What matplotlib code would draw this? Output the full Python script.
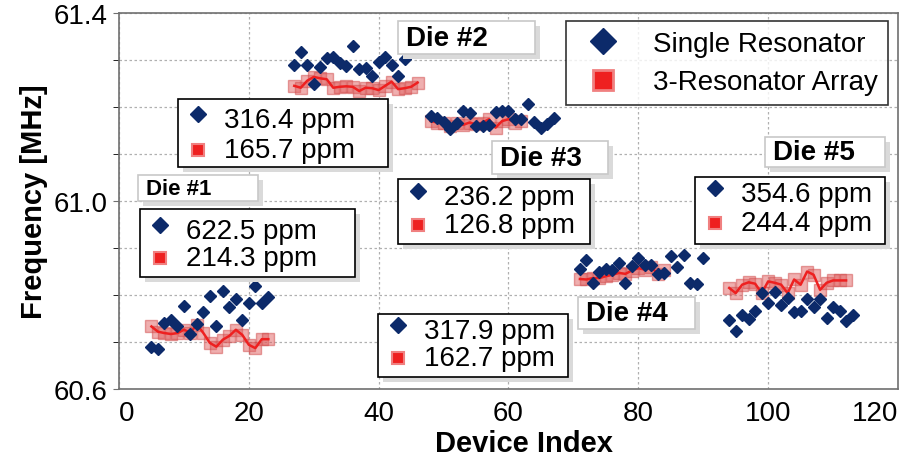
import numpy as np
import matplotlib.pyplot as plt
from matplotlib.lines import Line2D
from matplotlib.patches import Rectangle

plt.rcParams['font.family'] = ['Liberation Sans', 'DejaVu Sans']

# Single resonator, one list per die
single_x = [list(range(5, 24)), list(range(27, 45)), list(range(48, 68)),
            list(range(71, 91)), list(range(94, 114))]
single_y = [
    [60.689, 60.685, 60.740, 60.747, 60.733, 60.777, 60.717, 60.739, 60.764, 60.797,
     60.734, 60.808, 60.774, 60.792, 60.746, 60.783, 60.820, 60.783, 60.796],
    [61.289, 61.317, 61.289, 61.250, 61.286, 61.305, 61.307, 61.293, 61.288, 61.330,
     61.281, 61.284, 61.265, 61.295, 61.307, 61.289, 61.265, 61.303],
    [61.181, 61.176, 61.169, 61.153, 61.167, 61.192, 61.188, 61.160, 61.160, 61.162,
     61.190, 61.192, 61.192, 61.174, 61.174, 61.207, 61.169, 61.155, 61.163, 61.176],
    [60.855, 60.874, 60.826, 60.848, 60.856, 60.854, 60.868, 60.826, 60.861, 60.879,
     60.863, 60.863, 60.845, 60.847, 60.882, 60.859, 60.886, 60.826, 60.824, 60.879],
    [60.747, 60.724, 60.757, 60.749, 60.766, 60.804, 60.783, 60.806, 60.779, 60.794,
     60.763, 60.767, 60.791, 60.774, 60.791, 60.752, 60.774, 60.766, 60.744, 60.758],
]

# 3-resonator array, one list per die
array_x = [list(range(5, 24)), list(range(27, 47)), list(range(48, 63)),
           list(range(71, 85)), list(range(94, 113))]
array_y = [
    [60.733, 60.722, 60.719, 60.717, 60.719, 60.726, 60.720, 60.737, 60.719, 60.698,
     60.690, 60.705, 60.713, 60.726, 60.715, 60.694, 60.687, 60.706, 60.706],
    [61.245, 61.241, 61.256, 61.264, 61.261, 61.259, 61.241, 61.243, 61.244, 61.243,
     61.234, 61.241, 61.240, 61.236, 61.245, 61.254, 61.238, 61.240, 61.243, 61.252],
    [61.170, 61.167, 61.165, 61.160, 61.167, 61.162, 61.167, 61.163, 61.167, 61.174,
     61.156, 61.170, 61.174, 61.167, 61.170],
    [60.834, 60.833, 60.836, 60.836, 60.840, 60.843, 60.847, 60.845, 60.852, 60.857,
     60.854, 60.859, 60.845, 60.854],
    [60.815, 60.804, 60.822, 60.827, 60.824, 60.804, 60.829, 60.826, 60.822, 60.804,
     60.833, 60.822, 60.850, 60.843, 60.811, 60.826, 60.831, 60.831, 60.831],
]

die_names = ["Die #1", "Die #2", "Die #3", "Die #4", "Die #5"]
single_ppm = ["622.5 ppm", "316.4 ppm", "236.2 ppm", "317.9 ppm", "354.6 ppm"]
array_ppm = ["214.3 ppm", "165.7 ppm", "126.8 ppm", "162.7 ppm", "244.4 ppm"]

NAVY = "#0c2a6a"
RED = "#ee2020"

fig = plt.figure(figsize=(9.04, 4.64), dpi=100)
L, R, T, B = 119, 898, 14, 390
ax = fig.add_axes([L / 904, 1 - B / 464, (R - L) / 904, (B - T) / 464])


def px(x, y):
    # image pixel -> axes fraction
    return (x - L) / (R - L), 1 - (y - T) / (B - T)


for xs, ys in zip(array_x, array_y):
    ax.plot(xs, ys, ls="none", marker="s", ms=9, mfc="#e06060", mec="#d04848",
            alpha=0.5, zorder=2)
    ax.plot(xs, ys, color=RED, lw=1.8, zorder=3)
for xs, ys in zip(single_x, single_y):
    ax.plot(xs, ys, ls="none", marker="D", ms=6.5, color=NAVY, zorder=4)

ax.set_xlim(0, 120)
ax.set_ylim(60.6, 61.4)
ax.set_xticks(np.arange(0, 121, 20))
ax.set_yticks([60.6, 61.0, 61.4])
ax.set_yticks(np.arange(60.6, 61.41, 0.1), minor=True)
ax.set_yticklabels(["60.6", "61.0", "61.4"])
ax.grid(True, which="both", ls=(0, (2, 2)), color="#b0b0b0", lw=0.9)
ax.tick_params(axis="both", labelsize=20, colors="#707070", labelcolor="black")
ax.tick_params(axis="x", length=0, pad=8)
ax.tick_params(axis="y", which="both", length=4, direction="out", pad=4)
xt = ax.get_xticklabels()
xt[0].set_ha("left")
xt[-1].set_ha("right")
for s in ax.spines.values():
    s.set_color("#707070")
    s.set_linewidth(1.2)
ax.set_xlabel("Device Index", fontsize=21, fontweight="bold", labelpad=2, x=0.52)
ax.set_ylabel("Frequency [MHz]", fontsize=21, fontweight="bold", labelpad=4)


def box(x0, y0, x1, y1, ec="black", shadow=True):
    a0, b1 = px(x0, y1)
    a1, b0 = px(x1, y0)
    if shadow:
        ax.add_patch(Rectangle((a0 + 0.006, b1 - 0.014), a1 - a0, b0 - b1,
                               transform=ax.transAxes, fc="#dadada", ec="none",
                               zorder=8, clip_on=False))
    ax.add_patch(Rectangle((a0, b1), a1 - a0, b0 - b1, transform=ax.transAxes,
                           fc="white", ec=ec, lw=1.2, zorder=9, clip_on=False))


def stat_box(x0, y0, x1, y1, r1, r2, t1, t2):
    box(x0, y0, x1, y1)
    ax.plot(*px(x0 + 20, r1 - 6), marker="D", ms=8, color=NAVY,
            transform=ax.transAxes, zorder=10, clip_on=False)
    ax.plot(*px(x0 + 20, r2), marker="s", ms=9, mfc=RED, mec="#f08080",
            mew=1.5, transform=ax.transAxes, zorder=10, clip_on=False)
    ax.text(*px(x0 + 46, r1), t1, fontsize=20, va="center", transform=ax.transAxes,
            zorder=10)
    ax.text(*px(x0 + 46, r2), t2, fontsize=20, va="center", transform=ax.transAxes,
            zorder=10)


def die_label(x0, y0, x1, y1, text, size):
    box(x0, y0, x1, y1, ec="#c8c8c8")
    ax.text(*px(x0 + 8, (y0 + y1) / 2), text, fontsize=size, fontweight="bold",
            va="center", transform=ax.transAxes, zorder=10)


stat_pos = [(140, 210, 355, 278, 232, 259), (178, 100, 388, 168, 121, 151),
            (398, 180, 590, 245, 198, 226), (378, 315, 568, 378, 332, 359),
            (695, 178, 885, 245, 195, 224)]
label_pos = [(138, 176, 258, 202), (398, 22, 535, 55), (492, 142, 608, 175),
             (578, 298, 695, 330), (765, 138, 885, 168)]
label_size = [16, 20, 20, 20, 20]

for i in range(5):
    x0, y0, x1, y1, r1, r2 = stat_pos[i]
    stat_box(x0, y0, x1, y1, r1, r2, single_ppm[i], array_ppm[i])
    die_label(*label_pos[i], die_names[i], label_size[i])

handles = [
    Line2D([], [], ls="none", marker="D", ms=13, color=NAVY, label="Single Resonator"),
    Line2D([], [], ls="none", marker="s", ms=14, mfc=RED, mec="#f08080", mew=2,
           label="3-Resonator Array"),
]
leg = ax.legend(handles=handles, loc="upper right", bbox_to_anchor=px(888, 22),
                fontsize=20, frameon=True, fancybox=False, edgecolor="black",
                handletextpad=0.8, borderpad=0.35, labelspacing=0.45,
                borderaxespad=0)
leg.get_frame().set_linewidth(1.2)
leg.set_zorder(12)

fig.savefig("out.png", dpi=100)
plt.close(fig)
